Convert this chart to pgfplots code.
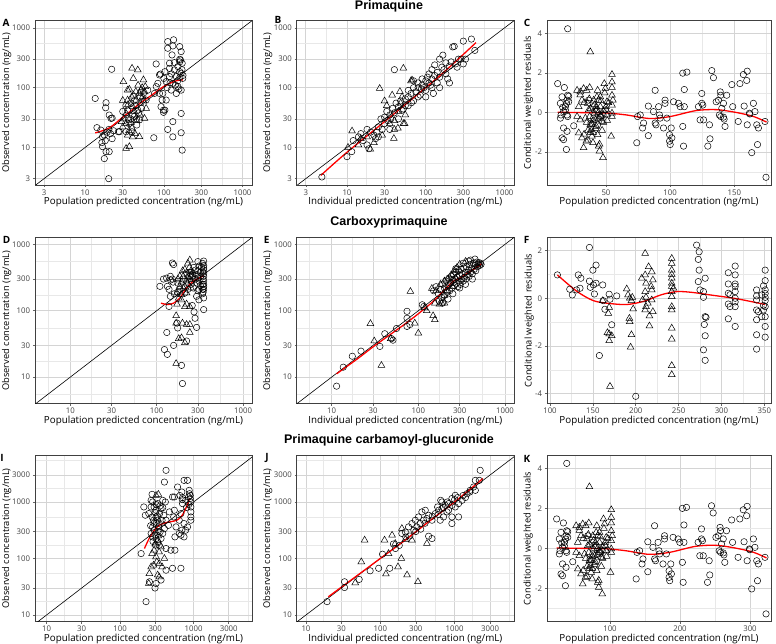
\documentclass[border=0pt]{standalone}
\usepackage{pgfplots}
\pgfplotsset{compat=1.18}
\usepackage{fontspec}
\setmainfont{Open Sans}
\newfontfamily\titlefont{Liberation Sans}
\pgfplotsset{
 panel/.style={scale only axis, clip=true,
  axis line style={draw=black!75, line width=0.6pt},
  tick align=outside, major tick length=2.2pt, minor tick length=0pt,
  every tick/.style={draw=black!60, line width=0.5pt},
  xtick pos=bottom, ytick pos=left,
  grid=both,
  major grid style={draw=black!17, line width=0.6pt},
  minor grid style={draw=black!9, line width=0.4pt},
  tick label style={font=\fontsize{7.8}{9}\selectfont, text=black!75},
  xticklabel style={yshift=1.2pt}, yticklabel style={xshift=0.8pt},
  xlabel style={font=\fontsize{9.8}{11}\selectfont, yshift=4.6pt},
 },
 ylab/.style={every axis y label/.style={font=\fontsize{9.3}{11}\selectfont, inner sep=1pt, at={(axis description cs:0,0.5)}, xshift=#1, rotate=90, anchor=center}},
 circ/.style={only marks, black, mark=o, mark size=3.2pt, mark options={draw=black, line width=0.5pt}},
 tri/.style={only marks, black, mark=triangle, mark size=3.9pt, mark options={draw=black, line width=0.5pt}},
 loess/.style={red, line width=1.3pt, smooth, no marks},
 ident/.style={black, line width=0.6pt, no marks},
}
\begin{document}
\begin{tikzpicture}
\useasboundingbox (0pt,0pt) rectangle (776pt,644pt);
% ---------------- A
\begin{loglogaxis}[panel, ylab=-28.3pt, at={(35pt,623.5pt)}, anchor=north west, width=217pt, height=164.5pt,
 xmin=2.3, xmax=1320, ymin=2.35, ymax=1330,
 xtick={3,10,30,100,300,1000}, xticklabels={3,10,30,100,300,1000},
 ytick={3,10,30,100,300,1000}, yticklabels={3,10,30,100,300,1000},
 minor xtick={5.48,17.3,54.8,173,548}, minor ytick={5.48,17.3,54.8,173,548},
 xlabel={Population predicted concentration (ng/mL)}, ylabel={Observed concentration (ng/mL)}]
\addplot[ident] coordinates {(1,1) (2000,2000)};
\addplot[circ] coordinates {(13.4,66) (21.7,203) (14.1,21.4) (18.4,56) (18.2,46) (20.2,34.8) (21.3,30.6) (15.8,19.5) (16.6,15.1) (16.3,12.0) (16.6,10.3) (18.4,8.5) (20.2,8.5) (17.5,6.5) (19.9,3.0) (17.5,16) (19,18) (20,20) (21,17) (18,13) (22,14) (26.4,18.3) (22,31) (23,19)
(34.6,42) (38.2,55) (42.2,33) (35.6,28.8) (46.6,42) (45.2,23.7) (39.4,18.3) (59.5,62) (62.4,91) (48.9,28.8) (33.1,18.3) (27.2,18.3) (36,25) (40,35) (44,50) (50,70) (52,45) (55,80) (38,30) (42,60) (48,38) (30,40) (33,50) (45,30)
(74.5,14.5) (83.8,118) (79.8,249) (90.6,169) (100,143) (95,62) (99,42) (99,38.6) (112,590) (133,632) (112,456) (130,499) (127,353) (159,486) (166,401) (151,225) (159,298) (163,290) (171,256) (136,198) (144,153) (166,174) (118,153) (107,126) (130,118) (151,104) (166,91) (124,91) (144,80) (97,80) (107,62) (92,48) (103,42) (166,37) (130,27) (112,20) (130,15) (166,17.6) (171,9) (159,270) (136,262) (118,256) (159,185) (118,210) (103,185) (88,163) (80,104) (88,80) (76,80) (174,143) (150,130) (160,150) (170,200) (140,110) (120,120) (110,100) (175,160) (155,95) (125,170)};
\addplot[tri] coordinates {(39.4,211) (30.6,126) (34.6,91) (30,61) (46.6,198) (55,135) (48.9,80.4) (36.4,94) (33.1,37) (30,22) (34.6,16) (33.1,9.6) (36.4,10.3) (39.4,21) (48.9,15.1) (59.5,45) (56.7,30.6) (53.9,70.6) (44.3,62) (40,48) (51.2,91) (58,104) (40.9,143) (34.6,62) (42,40) (45,28) (50,55) (38,26) (36,19) (43,17) (47,110) (53,100) (41,75) (35,52) (31,30) (29,27) (55,60) (57,85) (44,86) (39,70) (50,35) (33,25) (40,15)};
\addplot[loess] coordinates {(13.4,17.5) (20,21) (30,32) (40,43) (50,55) (70,75) (100,105) (130,124) (150,132) (174,135)};
\end{loglogaxis}
% ---------------- B
\begin{loglogaxis}[panel, ylab=-29pt, at={(296.7pt,623.5pt)}, anchor=north west, width=217.3pt, height=164.5pt,
 xmin=2.3, xmax=1320, ymin=2.35, ymax=1330,
 xtick={3,10,30,100,300,1000}, xticklabels={3,10,30,100,300,1000},
 ytick={3,10,30,100,300,1000}, yticklabels={3,10,30,100,300,1000},
 minor xtick={5.48,17.3,54.8,173,548}, minor ytick={5.48,17.3,54.8,173,548},
 xlabel={Individual predicted concentration (ng/mL)}, ylabel={Observed concentration (ng/mL)}]
\addplot[ident] coordinates {(1,1) (2000,2000)};
\addplot[circ] coordinates {(4.8,3.2) (10,7) (11.5,8.5) (12,13) (14,15) (15,17) (18,20) (18,11) (19,9.5) (20,18) (22,16) (23,14) (25,22) (27,30) (28,20) (30,32) (30,25) (32,40) (33,28) (35,35) (38,45) (40,38) (40,200) (42,55) (45,48) (48,60) (50,42) (55,65) (55,50) (60,70) (60,90) (65,80) (70,100) (70,60) (75,85) (80,100) (80,120) (85,75) (90,110) (90,140) (95,100) (100,130) (100,90) (105,150) (110,120) (110,170) (120,140) (120,100) (125,80) (130,160) (140,180) (140,120) (150,150) (150,300) (160,220) (165,350) (170,200) (180,260) (190,140) (200,230) (200,120) (210,270) (220,480) (230,490) (240,250) (260,300) (280,300) (300,600) (300,250) (320,300) (380,650) (420,420) (120,200) (130,240) (60,50) (45,30) (35,20) (25,15) (100,70) (150,100) (70,130) (80,70) (16,13) (24,18) (36,30) (52,44) (66,56) (88,95) (115,110) (180,170) (250,220)};
\addplot[tri] coordinates {(10.3,10) (11.6,18.8) (15,14) (14,11) (19.8,9.3) (22,12) (26,97) (30,60) (35,25) (37.5,75) (39.4,14.1) (40,28) (44.3,21) (45,40) (52,211) (50,70) (54,25) (55,35) (47,86) (67,134) (65,130) (40,20) (28,16) (18,15) (32,50) (48,55) (52,25)};
\addplot[loess] coordinates {(4.65,3.4) (10,8.3) (30,27) (100,100) (200,220) (435,568)};
\end{loglogaxis}
% ---------------- C
\begin{axis}[panel, ylab=-18.5pt, at={(547pt,623.5pt)}, anchor=north west, width=224pt, height=164.5pt,
 xmin=4.1, xmax=178.5, ymin=-3.67, ymax=4.67,
 xtick={50,100,150}, xticklabels={50,100,150}, minor xtick={25,75,125,175},
 ytick={-2,0,2,4}, yticklabels={-2,0,2,4}, minor ytick={-3,-1,1,3},
 xlabel={Population predicted concentration (ng/mL)}, ylabel={Conditional weighted residuals}]
\addplot[circ] coordinates {(12.4,1.47) (15.8,0.8) (14.5,0.47) (15,-0.12) (14.5,-0.28) (15.8,-1.28) (17,-1.37) (17,-0.78) (17.6,1.27) (18.4,0.3) (19.7,0.63) (19.2,0.47) (20.2,0.88) (21,0.83) (20.2,4.25) (19.7,-0.12) (20.2,-0.2) (19.7,-0.95) (19.2,-1.87) (18.4,0.13) (17,0.05) (16.3,0.27) (24.9,-0.67) (21,0.55)
(39.9,0.3) (40.4,-0.28) (43,0.13) (45.6,-0.2) (43.5,-0.62) (49.5,0.13) (47.7,-0.12) (38.3,-0.53) (36.5,0.63)
(74,-1.53) (74.6,-0.2) (76.7,-0.12) (78.5,-0.78) (79.3,-0.53) (83,0.33) (83,-1.17) (87,0.05) (88.3,1.13) (88.3,-0.53) (89,-0.62) (91,0.3) (91.7,-0.12) (92.2,-0.28) (94.8,-0.78) (96,0.63) (96,0.47) (97.4,-0.28) (99.5,-1.12) (99.5,-1.45) (100,-1.62) (101.3,-1.28) (100.8,-0.78) (102.6,0.55) (106.5,0.47) (107.8,0.3) (109.8,2.0) (113,2.05) (110.4,-1.7) (111,1.17) (109.8,-0.7) (111,0.3) (122,0.3) (123.3,-0.37) (124.6,0.97) (124.6,0.47) (125.4,0.38) (126,-0.37) (129.3,-1.7) (130.6,-0.62) (131,-1.33) (132.4,2.13) (133.7,1.77) (135.8,0.55) (137.6,0.63) (139,1.05) (139.4,0.88) (138.3,-0.12) (139.4,-0.2) (140.2,0.22) (141.5,0.47) (141.5,-0.23) (142,-0.33) (142.7,-0.7) (144,0.88) (148,1.42) (148.7,0.3) (153,-0.45) (157,1.93) (157.6,0.33) (159.6,1.63) (160,2.1) (160,-0.62) (161.7,-0.03) (162,-0.07) (163.5,-2.03) (164.8,0.47) (166,0.05) (167.4,-0.62) (168.7,-0.78) (168,-1.62) (173.8,-0.45) (174.6,-3.28) (154.3,1.47)};
\addplot[tri] coordinates {(27.5,1.13) (30,1.05) (32.6,1.22) (35,1.13) (37.3,1.27) (37.8,3.08) (28.8,0.3) (30,-0.37) (28.8,-1.03) (31.3,-1.28) (32.6,-1.78) (34.7,-1.45) (35.8,0.47) (36.5,0.13) (37.3,-0.2) (37.8,-0.62) (38.3,-0.87) (39.1,-1.2) (39.9,-1.53) (40.4,0.63) (41,-0.03) (41.7,-0.37) (42.5,-0.7) (43.5,-1.12) (44.3,-1.7) (45,-1.95) (43.5,1.13) (44.3,0.63) (45.6,0.3) (46.1,-0.12) (46.9,-0.45) (47.7,-2.28) (48.7,1.47) (49.5,1.22) (50.8,0.55) (50.3,0.13) (50.8,-0.12) (54.7,1.93) (54.7,1.55) (54.7,1.27) (54.7,0.88) (55.4,0.63) (54.7,0.38) (54.7,-0.03) (54.7,-0.2) (54.1,-1.2) (27.5,-0.2) (31.3,0.63) (34,-0.28) (45.6,0.8) (42.5,0.3)
(30,0.9) (33,0.5) (36,-0.9) (38,-1.0) (40,-0.4) (42,0.1) (44,-0.3) (46,0.6) (48,-0.5) (50,0.3) (38,0.2) (36,-1.4) (40,-1.0) (42,-0.8) (44,0.0) (46,-0.2) (48,0.1) (52,0.5) (41,0.4) (39,-0.6) (35,-0.5) (33,-1.1) (47,-0.9) (45,-1.6) (43,0.8) (37,0.7) (49,1.0) (51,-0.4)};
\addplot[loess] coordinates {(12.4,0.02) (30,0.0) (50,-0.02) (66,-0.12) (84,-0.3) (100,-0.2) (120,0.1) (136,0.15) (152,0.0) (165,-0.2) (175,-0.48)};
\end{axis}
% ---------------- D
\begin{loglogaxis}[panel, ylab=-28.3pt, at={(35pt,406.3pt)}, anchor=north west, width=217pt, height=165.8pt,
 xmin=3.9, xmax=1270, ymin=4.0, ymax=1260,
 xtick={10,30,100,300,1000}, xticklabels={10,30,100,300,1000},
 ytick={10,30,100,300,1000}, yticklabels={10,30,100,300,1000},
 minor xtick={5.48,17.3,54.8,173,548}, minor ytick={5.48,17.3,54.8,173,548},
 xlabel={Population predicted concentration (ng/mL)}, ylabel={Observed concentration (ng/mL)}]
\addplot[ident] coordinates {(1,1) (2000,2000)};
\addplot[circ] coordinates {(109,233) (152,524) (157,496) (144,330) (152,300) (155,270) (133,233) (139,210) (144,165) (139,116) (131,47) (123,26) (133,22) (157,30) (172,65) (175,55) (194,15) (199,8) (222,35) (290,56) (278,77) (350,104) (350,156) (271,96) (258,120) (308,210) (340,517) (308,470) (282,410) (242,330) (222,370) (203,300) (185,210) (176,260) (295,260) (325,330) (340,210) (350,233) (308,146) (300,310) (350,410) (350,330) (350,280) (230,210) (212,185) (266,220) (252,280) (290,165) (350,560) (350,480) (345,380) (345,300) (340,250) (345,190) (300,550) (300,400) (290,350) (310,280) (320,240) (270,450) (260,330) (250,250) (240,380) (280,300) (320,380) (330,450) (300,200) (350,360) (350,440) (350,250) (350,210) (340,180) (160,180) (175,190) (120,300) (130,310) (145,290)};
\addplot[tri] coordinates {(242,580) (230,520) (212,420) (203,330) (194,270) (185,233) (172,185) (180,155) (172,125) (194,145) (212,115) (242,115) (222,126) (168,84) (168,65) (199,65) (222,62) (242,62) (242,47) (180,38) (194,39) (212,33) (168,16) (252,345) (266,310) (230,330) (203,220) (194,175) (222,185) (212,233) (185,330) (176,300) (240,450) (250,400) (230,260) (250,220) (260,380) (220,280) (200,400) (240,300)};
\addplot[loess] coordinates {(112,130) (133,124) (157,130) (185,155) (222,220) (266,280) (350,335)};
\end{loglogaxis}
% ---------------- E
\begin{loglogaxis}[panel, ylab=-29pt, at={(296.7pt,406.3pt)}, anchor=north west, width=217.3pt, height=165.8pt,
 xmin=3.95, xmax=1270, ymin=4.0, ymax=1260,
 xtick={10,30,100,300,1000}, xticklabels={10,30,100,300,1000},
 ytick={10,30,100,300,1000}, yticklabels={10,30,100,300,1000},
 minor xtick={5.48,17.3,54.8,173,548}, minor ytick={5.48,17.3,54.8,173,548},
 xlabel={Individual predicted concentration (ng/mL)}, ylabel={Observed concentration (ng/mL)}]
\addplot[ident] coordinates {(1,1) (2000,2000)};
\addplot[circ] coordinates {(11.4,7.3) (13.6,14.1) (17.3,20.6) (21.8,24.6) (36,29) (41,45) (56,54) (74,77) (74,98) (74,58) (80,62) (111,123) (116,116) (49,38) (51,36)
(150,200) (160,230) (170,180) (180,210) (185,160) (190,250) (200,220) (200,170) (210,280) (215,190) (220,240) (225,310) (230,200) (235,260) (240,330) (245,220) (250,290) (255,350) (260,240) (265,300) (270,380) (275,260) (280,320) (285,230) (290,400) (295,280) (300,340) (305,250) (310,420) (315,300) (320,360) (330,280) (335,440) (340,320) (350,380) (355,300) (360,460) (370,350) (380,410) (385,330) (390,500) (400,380) (410,440) (420,360) (430,520) (440,420) (450,480) (460,400) (470,540) (480,460) (490,500) (500,530) (510,480) (520,520) (530,500) (350,250) (300,220) (250,180) (420,300) (380,560) (330,520) (270,430) (400,580) (450,600) (220,150) (190,130) (175,140)};
\addplot[tri] coordinates {(28,64) (31,35) (37.5,15) (81,195) (91,65) (100,46) (148,84) (155,73) (48,38) (118,110) (125,100) (155,130) (175,125) (186,130) (200,130) (143,216) (160,200) (180,250) (200,280) (220,300) (240,350) (260,400) (280,450) (300,500) (351,553) (200,170) (230,260) (250,230) (210,200) (270,310)};
\addplot[loess] coordinates {(11.4,11.2) (20,19) (30,28.5) (50,46) (70,63) (100,90) (150,140) (200,205) (250,275) (300,310) (400,390) (540,510)};
\end{loglogaxis}
% ---------------- F
\begin{axis}[panel, ylab=-17.7pt, at={(547pt,406.3pt)}, anchor=north west, width=224pt, height=165.8pt,
 xmin=96.5, xmax=357.8, ymin=-4.41, ymax=2.54,
 xtick={100,150,200,250,300,350}, xticklabels={100,150,200,250,300,350}, minor xtick={125,175,225,275,325},
 ytick={-4,-2,0,2}, yticklabels={-4,-2,0,2}, minor ytick={-3,-1,1},
 xlabel={Population predicted concentration (ng/mL)}, ylabel={Conditional weighted residuals}]
\addplot[circ] coordinates {(108.6,0.98) (123,0.38) (126,0.14) (131,0.35) (133,0.98) (136,0.84) (135,0.42) (146,2.13) (146,0.72) (147,0.46) (150,1.18) (150.6,0.56) (151.8,0.18) (153.7,1.39) (153.7,0.63) (157.6,-2.40) (161.5,0.56) (162,-0.1) (164,-0.46) (169,0.17) (170,-0.04) (172,-1.11) (177.8,0.1) (200,-4.11) (271,2.23) (274,1.95) (273,1.63) (274,1.18) (273,0.7) (275,0.35) (279,0.28) (281,0.84) (281,-0.77) (280,-1.1) (281,-1.57) (279,-2.16) (281,-2.6) (279,0.04) (308,1.07) (308,0.6) (308,0.21) (308,-0.24) (308,-0.86) (316,1.35) (316,0.98) (316,0.6) (316,0.28) (316,0) (316,-0.35) (316,-1.18) (310,-0.35) (341,0.35) (341,-0.07) (341,-0.49) (341,-0.9) (341,-1.53) (341,-2.13) (351,1.18) (351,0.74) (351,0.35) (351,0.04) (351,-0.35) (351,-0.77) (351,-1.18) (351,-1.63) (349,0.52) (347,0.14) (349,-0.49) (347,-0.77) (343,-0.56) (316,0.5) (316,-0.15) (341,0.1) (351,-0.1) (351,0.2) (349,-0.3) (282,-0.8) (310,0.15)};
\addplot[tri] coordinates {(161.5,-0.1) (169,-0.38) (168,-0.63) (167,-1.44) (169,-1.49) (172,-1.57) (169,-1.78) (170,-3.69) (189.5,0.39) (191,0.14) (193,0) (195,-0.1) (192.6,-0.84) (193,-0.98) (195,-1.53) (194,-2.05) (197,-0.45) (196,0.04) (211,1.88) (211,0.98) (212,0.63) (211,0.28) (212,0.04) (212,-0.35) (211,-0.49) (215,1.32) (216,-0.74) (216,-1.16) (218.7,1.11) (220,0.77) (218.7,0.35) (218.7,-0.07) (220,-0.56) (207,0.84) (208,-0.07) (242,1.67) (242,1.46) (242,1.18) (242,0.84) (242,0.63) (242,0.28) (242,0.07) (242,-0.35) (242,-0.49) (242,-1.25) (242,-1.71) (242,-2.82) (242,-3.2) (244,0.42) (242,0.5) (242,1.0) (218,0.5) (214,-0.2)};
\addplot[loess] coordinates {(108.6,0.98) (131,0.3) (150.6,-0.1) (170,-0.22) (190,-0.26) (210,-0.12) (230,0.15) (248,0.28) (265,0.25) (287,0.14) (318,-0.02) (351,-0.26)};
\end{axis}
% ---------------- I
\begin{loglogaxis}[panel, ylab=-28.3pt, at={(35pt,189pt)}, anchor=north west, width=217pt, height=166.7pt,
 xmin=6.95, xmax=6220, ymin=7.6, ymax=6780,
 xtick={10,30,100,300,1000,3000}, xticklabels={10,30,100,300,1000,3000},
 ytick={10,30,100,300,1000,3000}, yticklabels={10,30,100,300,1000,3000},
 minor xtick={17.3,54.8,173,548,1732,5477}, minor ytick={17.3,54.8,173,548,1732,5477},
 xlabel={Population predicted concentration (ng/mL)}, ylabel={Observed concentration (ng/mL)}]
\addplot[ident] coordinates {(1,1) (10000,10000)};
\addplot[circ] coordinates {(421,3630) (400,2250) (272,1365) (412,1000) (380,794) (546,713) (468,667) (671,622) (535,543) (637,475) (575,362) (740,415) (421,150) (490,140) (556,140) (421,62) (516,67) (671,67) (360,41.5) (308,36) (298,30) (225,17.2) (250,38.7) (193,122)
(605,1840) (740,2410) (826,2410) (870,1607) (853,1225) (690,1500) (706,1190) (706,935) (778,1070) (916,1000) (916,816) (916,667) (916,543) (916,475) (690,316) (671,258) (740,241) (637,277) (778,316) (556,241) (826,362) (516,1225) (546,1225) (900,1300) (900,1150) (880,1400) (860,900) (800,800) (700,1100) (650,1300)
(210,816) (220,582) (264,1070) (277,1000) (290,816) (308,713) (245,622) (272,543) (285,475) (308,415) (335,362) (290,316) (264,277) (277,241) (308,225) (324,197) (302,172) (340,172) (360,225) (380,277) (372,475) (344,622) (324,935) (360,763) (392,582) (421,475) (455,386) (400,337) (308,543) (277,362) (324,475) (350,296) (264,816) (380,1070) (300,650) (320,560) (340,420) (290,420) (260,380) (350,850) (310,900) (330,300) (300,260) (280,200)};
\addplot[tri] coordinates {(331,1365) (308,1300) (324,210) (340,130) (360,160) (308,107) (315,87) (340,81) (285,76) (264,71) (250,54) (245,36) (324,51) (340,47) (290,140) (272,122) (400,100) (372,71) (300,180) (330,250)};
\addplot[loess] coordinates {(214,150) (250,230) (300,330) (350,395) (420,430) (500,450) (600,480) (700,580) (800,820) (880,1150)};
\end{loglogaxis}
% ---------------- J
\begin{loglogaxis}[panel, ylab=-29pt, at={(296.7pt,189pt)}, anchor=north west, width=217.3pt, height=166.7pt,
 xmin=7.5, xmax=6300, ymin=7.6, ymax=6780,
 xtick={10,30,100,300,1000,3000}, xticklabels={10,30,100,300,1000,3000},
 ytick={10,30,100,300,1000,3000}, yticklabels={10,30,100,300,1000,3000},
 minor xtick={17.3,54.8,173,548,1732,5477}, minor ytick={17.3,54.8,173,548,1732,5477},
 xlabel={Individual predicted concentration (ng/mL)}, ylabel={Observed concentration (ng/mL)}]
\addplot[ident] coordinates {(1,1) (10000,10000)};
\addplot[circ] coordinates {(19.2,17.2) (33,38.7) (33,30.6) (52,42.6) (73,60.5) (95,67) (107,119) (134,67) (447,248) (496,225) (920,543) (920,870) (920,1150) (1020,1310) (1260,1070) (1470,1400) (1620,1607) (1800,1840) (1900,2410) (2150,2410) (1900,1607) (2210,3630) (496,475) (610,713) (675,763) (550,622) (424,508) (447,582) (363,667) (327,543) (296,475) (267,415) (240,362) (217,295) (195,277) (283,316) (310,362) (345,415) (382,475) (403,713) (590,816) (650,1070) (675,1000) (748,870) (830,935) (790,667) (710,543) (640,475) (830,713) (1020,816) (1130,935) (1130,543) (920,415) (1100,1200) (1300,1300) (1000,1100) (800,1000) (700,800) (600,600) (500,560) (400,420) (350,330) (300,300) (250,250) (220,240) (180,170) (160,150) (150,180) (1400,1200) (1600,1500)};
\addplot[tri] coordinates {(61.5,211) (55.5,87) (114,211) (119,53) (144,258) (173,71) (192,100) (229,51) (321,38.7) (424,184) (46,37) (129,122) (159,184) (195,339) (217,216) (267,211)};
\addplot[loess] coordinates {(20,21) (50,51) (100,100) (200,195) (300,295) (500,500) (1000,1000) (2400,2600)};
\end{loglogaxis}
% ---------------- K
\begin{axis}[panel, ylab=-18.7pt, at={(547pt,189pt)}, anchor=north west, width=224pt, height=166.7pt,
 xmin=10, xmax=330, ymin=-3.67, ymax=4.67,
 xtick={100,200,300}, xticklabels={100,200,300}, minor xtick={50,150,250},
 ytick={-2,0,2,4}, yticklabels={-2,0,2,4}, minor ytick={-3,-1,1,3},
 xlabel={Population predicted concentration (ng/mL)}, ylabel={Conditional weighted residuals}]
\addplot[circ] coordinates {(23.8,1.47) (30.0,0.8) (27.6,0.47) (28.6,-0.12) (27.6,-0.28) (30.0,-1.28) (32.2,-1.37) (32.2,-0.78) (33.4,1.27) (34.8,0.3) (37.2,0.63) (36.3,0.47) (38.2,0.88) (39.6,0.83) (38.2,4.25) (37.2,-0.12) (38.2,-0.2) (37.2,-0.95) (36.3,-1.87) (34.8,0.13) (32.2,0.05) (31.0,0.27) (46.8,-0.67) (39.6,0.55)
(74.5,0.3) (75.4,-0.28) (80.2,0.13) (85.0,-0.2) (81.1,-0.62) (92.2,0.13) (88.9,-0.12) (71.5,-0.53) (68.2,0.63)
(137.4,-1.53) (138.5,-0.2) (142.3,-0.12) (145.7,-0.78) (147.1,-0.53) (154.0,0.33) (154.0,-1.17) (161.3,0.05) (163.7,1.13) (163.7,-0.53) (165.0,-0.62) (168.7,0.3) (170.0,-0.12) (170.9,-0.28) (175.7,-0.78) (177.9,0.63) (177.9,0.47) (180.5,-0.28) (184.4,-1.12) (184.4,-1.45) (185.3,-1.62) (187.7,-1.28) (186.8,-0.78) (190.1,0.55) (197.3,0.47) (199.7,0.3) (203.4,2.0) (209.3,2.05) (204.5,-1.7) (205.6,1.17) (203.4,-0.7) (205.6,0.3) (225.9,0.3) (228.3,-0.37) (230.7,0.97) (230.7,0.47) (232.1,0.38) (233.2,-0.37) (239.3,-1.7) (241.7,-0.62) (242.5,-1.33) (245.0,2.13) (247.4,1.77) (251.3,0.55) (254.6,0.63) (257.2,1.05) (257.9,0.88) (255.9,-0.12) (257.9,-0.2) (259.4,0.22) (261.8,0.47) (261.8,-0.23) (262.7,-0.33) (264.0,-0.7) (266.4,0.88) (273.8,1.42) (275.1,0.3) (283.0,-0.45) (290.4,1.93) (291.5,0.33) (295.2,1.63) (295.9,2.1) (295.9,-0.62) (299.1,-0.03) (299.6,-0.07) (302.4,-2.03) (304.8,0.47) (307.0,0.05) (309.6,-0.62) (312.0,-0.78) (310.7,-1.62) (321.4,-0.45) (322.9,-3.28) (285.4,1.47)};
\addplot[tri] coordinates {(51.6,1.13) (56.2,1.05) (61.0,1.22) (65.4,1.13) (69.7,1.27) (70.6,3.08) (54.0,0.3) (56.2,-0.37) (54.0,-1.03) (58.6,-1.28) (61.0,-1.78) (64.9,-1.45) (66.9,0.47) (68.2,0.13) (69.7,-0.2) (70.6,-0.62) (71.5,-0.87) (73.0,-1.2) (74.5,-1.53) (75.4,0.63) (76.5,-0.03) (77.8,-0.37) (79.3,-0.7) (81.1,-1.12) (82.6,-1.7) (83.9,-1.95) (81.1,1.13) (82.6,0.63) (85.0,0.3) (85.9,-0.12) (87.4,-0.45) (88.9,-2.28) (90.7,1.47) (92.2,1.22) (94.6,0.55) (93.7,0.13) (94.6,-0.12) (101.8,1.93) (101.8,1.55) (101.8,1.27) (101.8,0.88) (103.1,0.63) (101.8,0.38) (101.8,-0.03) (101.8,-0.2) (100.7,-1.2) (51.6,-0.2) (58.6,0.63) (63.6,-0.28) (85.0,0.8) (79.3,0.3)
(56.2,0.9) (61.8,0.5) (67.3,-0.9) (71.0,-1.0) (74.7,-0.4) (78.3,0.1) (82.0,-0.3) (85.7,0.6) (89.4,-0.5) (93.1,0.3) (71.0,0.2) (67.3,-1.4) (74.7,-1.0) (78.3,-0.8) (82.0,0.0) (85.7,-0.2) (89.4,0.1) (96.8,0.5) (76.5,0.4) (72.8,-0.6) (65.4,-0.5) (61.8,-1.1) (87.6,-0.9) (83.9,-1.6) (80.2,0.8) (69.1,0.7) (91.3,1.0) (95.0,-0.4)};
\addplot[loess] coordinates {(23.8,0.02) (56.2,0.0) (93.1,-0.02) (122.6,-0.12) (155.8,-0.3) (185.3,-0.2) (222.2,0.1) (251.7,0.15) (281.2,0.0) (305.2,-0.2) (323.6,-0.48)};
\end{axis}
% ---------------- titles and letters
\node[font=\titlefont\bfseries\fontsize{12.5}{13}\selectfont] at (389pt,638pt) {Primaquine};
\node[font=\titlefont\bfseries\fontsize{12.5}{13}\selectfont] at (389pt,421.3pt) {Carboxyprimaquine};
\node[font=\titlefont\bfseries\fontsize{12.5}{13}\selectfont] at (389pt,204pt) {Primaquine carbamoyl-glucuronide};
\node[font=\bfseries\fontsize{10}{10}\selectfont] at (6pt,621.5pt) {A};
\node[font=\bfseries\fontsize{10}{10}\selectfont, inner sep=1pt] at (278pt,624pt) {B};
\node[font=\bfseries\fontsize{10}{10}\selectfont] at (527pt,621.5pt) {C};
\node[font=\bfseries\fontsize{10}{10}\selectfont] at (6.7pt,403.7pt) {D};
\node[font=\bfseries\fontsize{10}{10}\selectfont] at (266.7pt,403.7pt) {E};
\node[font=\bfseries\fontsize{10}{10}\selectfont] at (526.7pt,403.7pt) {F};
\node[font=\bfseries\fontsize{10}{10}\selectfont] at (2pt,185.7pt) {I};
\node[font=\bfseries\fontsize{10}{10}\selectfont] at (267pt,185.7pt) {J};
\node[font=\bfseries\fontsize{10}{10}\selectfont] at (527pt,184.7pt) {K};
\end{tikzpicture}
\end{document}
